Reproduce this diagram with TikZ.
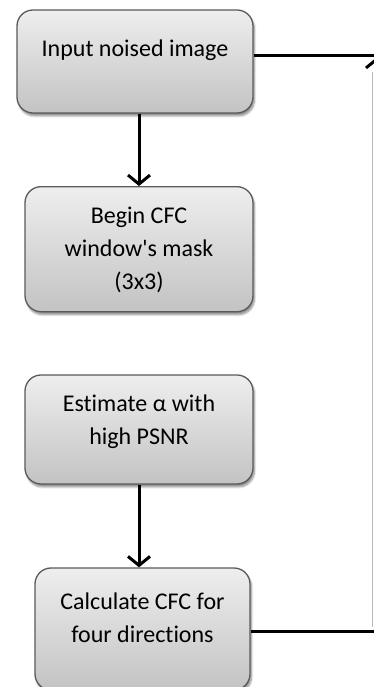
\documentclass[tikz,border=0pt]{standalone}
\usepackage{fontspec}
\setmainfont[Ligatures={NoCommon}]{Carlito}
\usetikzlibrary{arrows.meta}
\usetikzlibrary{shadows.blur}

\definecolor{boxtop}{HTML}{EEEEEE}
\definecolor{boxbot}{HTML}{C3C3C3}
\definecolor{boxline}{HTML}{5A5A5A}

\tikzset{
  flowbox/.style={draw=boxline, line width=1.3pt, rounded corners=16pt,
    top color=boxtop, bottom color=boxbot,
    blur shadow={shadow xshift=1.5pt, shadow yshift=-3pt, shadow blur steps=6, shadow opacity=45}},
  boxtext/.style={align=center, font=\fontsize{24}{33}\selectfont, inner sep=0pt},
  flowline/.style={line width=3pt},
  flowarrow/.style={line width=3pt, -{Straight Barb[length=9pt,width=22pt]}}
}

\begin{document}
\begin{tikzpicture}[x=1pt,y=1pt]

\useasboundingbox (0,0) rectangle (374,687);
\clip (0,0) rectangle (374,687);

% boxes
\node[flowbox, minimum width=236pt, minimum height=103pt] (input) at (135,625.5) {};
\node[flowbox, minimum width=228pt, minimum height=125pt] (mask) at (139,437.8) {};
\node[flowbox, minimum width=228pt, minimum height=109pt] (estimate) at (139,257.5) {};
\node[flowbox, minimum width=215pt, minimum height=122pt] (calcfc) at (142.5,58) {};

% texts
\node[boxtext] (inputtxt) at (135,637) {Input noised image};
\node[boxtext] (masktxt) at (139,437) {Begin CFC\\window\textquotesingle s mask\\(3x3)};
\node[boxtext] (estimatetxt) at (139,265.5) {Estimate \symbol{"03B1} with\\high PSNR};
\node[boxtext] (calcfctxt) at (142.5,69.5) {Calculate CFC for\\four directions};

% connectors
\coordinate (topright) at (380,631);
\coordinate (returntop) at (377,630);
\coordinate (returnbot) at (377,55.3);

\draw[flowarrow] (mask.north |- input.south) -- (mask.north);
\draw[flowarrow] (estimate.south) -- (estimate.south |- calcfc.north);
\draw[flowline] (input.east |- topright) -- (topright);
\draw[flowline] (calcfc.east |- returnbot) -- (returnbot);
\draw[flowarrow] (returnbot) -- (returntop);
\draw[gray!55, line width=0.8pt] (372,615) -- (372,60);

\end{tikzpicture}
\end{document}
